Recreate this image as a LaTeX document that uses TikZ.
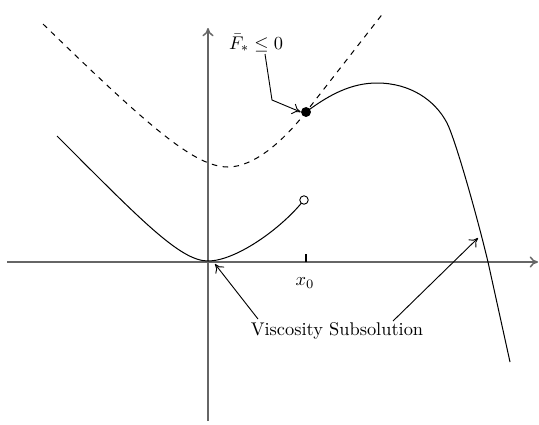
\documentclass[tikz,border=0pt]{standalone}
\usetikzlibrary{arrows.meta}
\begin{document}
\begin{tikzpicture}[x=0.544pt,y=-0.544pt,
  axis/.style={draw=black!60,line width=0.8pt,-{To[length=4.5pt,width=6pt]}},
  curve/.style={draw=black,line width=0.55pt},
  pointer/.style={draw=black,line width=0.5pt,-{To[length=4.5pt,width=6pt]}},
  lbl/.style={inner sep=1pt,font=\normalsize}]
\useasboundingbox (0,0) rectangle (539,424);
% axes
\coordinate (xs) at (7,262);
\coordinate (xe) at (538,262);
\coordinate (ys) at (208,421);
\coordinate (ye) at (208,28);
\draw[axis] (xs) -- (xe);
\draw[axis] (ys) -- (ye);
% tick x0
\coordinate (t0) at (306,254);
\coordinate (t1) at (306,262);
\draw[draw=black,line width=0.8pt] (t0) -- (t1);
\node[lbl] (x0) at (305,283) {$x_0$};
% dashed curve
\draw[curve,dashed] (43,24) .. controls (150,128) and (195,167) .. (228,167)
  .. controls (255,167) and (285,139) .. (306,112) -- (384,12);
% lower solid curve
\draw[curve] (57,136) .. controls (140,219) and (180,261) .. (208,261)
  .. controls (235,261) and (280,230) .. (304,200);
% right solid curve
\draw[curve] (306,112) .. controls (330,94) and (352,83) .. (377,83)
  .. controls (410,83) and (435,100) .. (447,123)
  .. controls (456,141) and (478,220) .. (488,262) -- (510,362);
% points
\node[circle,fill=black,inner sep=0pt,minimum size=5.4pt] (dot) at (306,112) {};
\node[circle,draw=black,fill=white,line width=0.5pt,inner sep=0pt,minimum size=4.6pt] (open) at (304,200) {};
% labels
\node[lbl] (F) at (256,43) {$\bar{F}_* \leq 0$};
\node[lbl] (VS) at (337,331) {Viscosity Subsolution};
\coordinate (bend) at (272,100);
\coordinate (tipA) at (215,264);
\coordinate (tipB) at (478,238);
\coordinate (fs) at (265,54);
\coordinate (va) at (258,319);
\coordinate (vb) at (393,321);
\draw[pointer] (fs) -- (bend) -- (dot.west);
\draw[pointer] (va) -- (tipA);
\draw[pointer] (vb) -- (tipB);
\end{tikzpicture}
\end{document}
